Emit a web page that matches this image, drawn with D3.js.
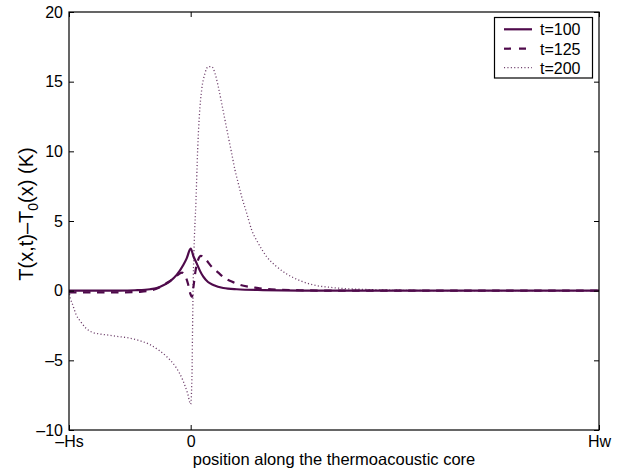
<!DOCTYPE html>
<html>
<head>
<meta charset="utf-8">
<script src="https://cdn.jsdelivr.net/npm/d3@7"></script>
<style>
  html, body { margin: 0; padding: 0; background: #fff; }
  svg { display: block; font-family: "Liberation Sans", Arial, Helvetica, sans-serif; }
</style>
</head>
<body>
<svg id="chart" width="624" height="474"></svg>
<script>
// ---------- data ----------
const seriesNames = ["t=100", "t=125", "t=200"];

// t=100 (solid)
const x100 = [-0.298, -0.1732, -0.1364, -0.1119, -0.0997, -0.0833, -0.0671, -0.0507, -0.0343, -0.0181, -0.0098, 0,
              0.0069, 0.0147, 0.0228, 0.0309, 0.0424, 0.0554, 0.0798, 0.1127, 0.1771, 0.2677, 1.0];
const y100 = [0.0, 0.01, 0.03, 0.06, 0.10, 0.19, 0.39, 0.67, 1.13, 1.84, 2.32, 3.02,
              2.45, 1.96, 1.42, 1.00, 0.62, 0.41, 0.19, 0.10, 0.04, 0.01, 0.0];

// t=125 (dashed)
const x125 = [-0.298, -0.1732, -0.1242, -0.0997, -0.0752, -0.0588, -0.0426, -0.0304, -0.0213, -0.0140, -0.0066, -0.0005,
              0.0032, 0.0069, 0.0118, 0.0179, 0.0252, 0.0350, 0.0514, 0.0676, 0.0840, 0.1004, 0.1207, 0.1411,
              0.1575, 0.1778, 0.2187, 0.2677, 0.3657, 1.0];
const y125 = [-0.12, -0.12, -0.08, 0.0, 0.25, 0.55, 0.85, 1.15, 1.30, 1.10, 0.50, -0.25,
              -0.45, 0.30, 1.40, 2.20, 2.50, 2.30, 1.72, 1.29, 0.89, 0.65, 0.42, 0.29,
              0.22, 0.14, 0.07, 0.03, 0.0, 0.0];

// t=200 (dotted)
const x200 = [-0.298, -0.2964, -0.2890, -0.2809, -0.2687, -0.2564, -0.2400, -0.2239, -0.1994, -0.1749, -0.1504,
              -0.1259, -0.1014, -0.0769, -0.0563, -0.0360, -0.0196, -0.0073, 0,
              0.0032, 0.0049, 0.0064, 0.0081, 0.0130, 0.0171, 0.0211, 0.0269, 0.0350, 0.0431, 0.0514,
              0.0595, 0.0676, 0.0759, 0.0840, 0.0921, 0.1004, 0.1085, 0.1166, 0.1249, 0.1372, 0.1494,
              0.1656, 0.1861, 0.2106, 0.2351, 0.2677, 0.3003, 0.3412, 0.3821, 0.4146, 0.5126, 0.6351, 1.0];
const y200 = [0.0, -0.3, -1.0, -1.7, -2.25, -2.7, -3.0, -3.1, -3.2, -3.3, -3.4,
              -3.58, -3.85, -4.3, -4.8, -5.5, -6.4, -7.4, -8.15,
              -6.0, -2.0, 1.0, 2.9, 6.5, 10.1, 12.5, 14.4, 15.6, 16.08, 16.08,
              15.6, 14.64, 13.45, 12.25, 11.05, 9.86, 8.66, 7.71, 6.75, 5.56, 4.36,
              3.40, 2.44, 1.72, 1.20, 0.72, 0.41, 0.24, 0.14, 0.10, 0.03, 0.0, 0.0];

const xTickValues = [-0.298, 0, 1.0];
const xTickLabels = ["\u2013Hs", "0", "Hw"];
const yTickValues = [-10, -5, 0, 5, 10, 15, 20];

// ---------- layout ----------
const svg = d3.select("#chart");
const L = 69, R = 599, T = 12, B = 430;
const x = d3.scaleLinear().domain([-0.298, 1.0]).range([L, R]);
const y = d3.scaleLinear().domain([-10, 20]).range([B, T]);

const color = "#4f0a4b";
const styles = [
  { width: 2.2, dash: null, color: color },
  { width: 2.2, dash: "7.5,6.5", color: color },
  { width: 1.3, dash: "1.1,2.3", color: "#6e3f6b" }
];
const data = [
  x100.map((v, i) => [v, y100[i]]),
  x125.map((v, i) => [v, y125[i]]),
  x200.map((v, i) => [v, y200[i]])
];

svg.append("rect").attr("x", 0).attr("y", 0).attr("width", 624).attr("height", 474).attr("fill", "#fff");

const line = d3.line().x(d => x(d[0])).y(d => y(d[1])).curve(d3.curveMonotoneX);

svg.append("clipPath").attr("id", "clip")
  .append("rect").attr("x", L).attr("y", T).attr("width", R - L).attr("height", B - T);

const g = svg.append("g").attr("clip-path", "url(#clip)");
[2, 1, 0].forEach(i => {
  g.append("path")
    .datum(data[i])
    .attr("d", line)
    .attr("fill", "none")
    .attr("stroke", styles[i].color)
    .attr("stroke-width", styles[i].width)
    .attr("stroke-dasharray", styles[i].dash)
    .attr("stroke-linejoin", "round");
});

// axes
const fs = 16;
const axL = d3.axisLeft(y).tickValues(yTickValues).tickSize(-5).tickPadding(6)
  .tickFormat(d => d < 0 ? "\u2013" + Math.abs(d) : String(d));
const axR = d3.axisRight(y).tickValues(yTickValues).tickSize(-5).tickFormat("");
const axB = d3.axisBottom(x).tickValues(xTickValues).tickSize(-5).tickPadding(6)
  .tickFormat((d, i) => xTickLabels[i]);
const axT = d3.axisTop(x).tickValues(xTickValues).tickSize(-5).tickFormat("");

function styleAxis(sel) {
  sel.select(".domain").remove();
  sel.selectAll(".tick line").attr("stroke", "#000").attr("stroke-width", 1);
  sel.selectAll(".tick text").attr("fill", "#000").style("font-size", fs + "px")
    .style("font-family", "'Liberation Sans', Arial, Helvetica, sans-serif");
}
svg.append("g").attr("transform", `translate(${L},0)`).call(axL).call(styleAxis);
svg.append("g").attr("transform", `translate(${R},0)`).call(axR).call(styleAxis);
svg.append("g").attr("transform", `translate(0,${B})`).call(axB).call(styleAxis);
svg.append("g").attr("transform", `translate(0,${T})`).call(axT).call(styleAxis);

// box
svg.append("rect").attr("x", L).attr("y", T).attr("width", R - L).attr("height", B - T)
  .attr("fill", "none").attr("stroke", "#000").attr("stroke-width", 1.2);

// axis labels
svg.append("text")
  .attr("x", (L + R) / 2).attr("y", 465)
  .attr("text-anchor", "middle")
  .style("font-size", "16.5px")
  .text("position along the thermoacoustic core");

const yl = svg.append("text")
  .attr("transform", `translate(33,214) rotate(-90)`)
  .attr("text-anchor", "middle")
  .style("font-size", "20px");
yl.append("tspan").text("T(x,t)\u2013T");
yl.append("tspan").attr("dy", 5).style("font-size", "14px").text("0");
yl.append("tspan").attr("dy", -5).text("(x) (K)");

// legend
const lg = svg.append("g");
lg.append("rect").attr("x", 494.5).attr("y", 17.5).attr("width", 98).attr("height", 60.5)
  .attr("fill", "#fff").attr("stroke", "#000").attr("stroke-width", 1.2);
const rowsY = [29.3, 48.7, 67.7];
seriesNames.forEach((name, i) => {
  lg.append("line")
    .attr("x1", 504).attr("x2", 532).attr("y1", rowsY[i]).attr("y2", rowsY[i])
    .attr("stroke", styles[i].color)
    .attr("stroke-width", styles[i].width)
    .attr("stroke-dasharray", i === 1 ? "7,8" : styles[i].dash);
  lg.append("text").attr("x", 540).attr("y", rowsY[i] + 6)
    .style("font-size", "16px").text(name);
});
</script>
</body>
</html>
